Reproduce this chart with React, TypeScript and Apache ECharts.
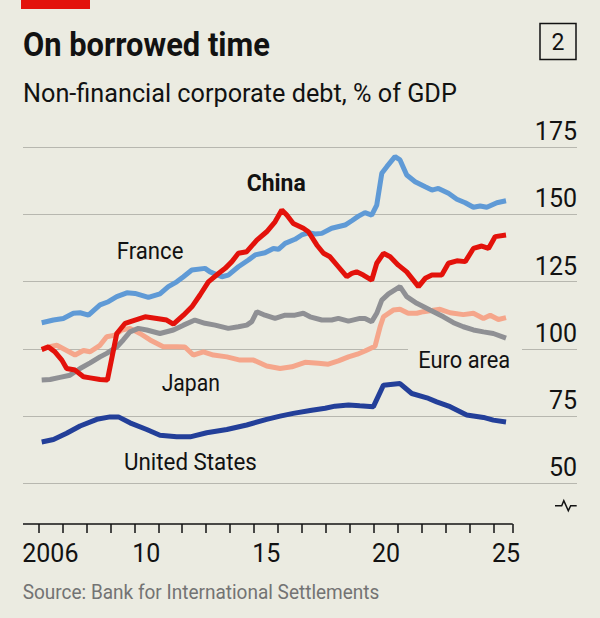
import React, { useEffect, useRef } from 'react';
import * as echarts from 'echarts';

// Non-financial corporate debt, % of GDP — [year, value]
const france: [number, number][] = [
  [2006.14, 109.7], [2006.63, 110.7], [2007.04, 111.3], [2007.46, 113.2], [2007.74, 113.4],
  [2008.09, 112.5], [2008.57, 116.3], [2008.92, 117.5], [2009.27, 119.4], [2009.69, 120.8],
  [2010.03, 120.6], [2010.59, 119.1], [2011.07, 120.4], [2011.42, 123.1], [2011.77, 124.9],
  [2012.05, 126.8], [2012.4, 129.3], [2012.95, 129.9], [2013.16, 128.6], [2013.65, 126.8],
  [2013.92, 127.4], [2014.34, 130.5], [2014.76, 133.0], [2015.04, 134.9], [2015.45, 135.7],
  [2015.8, 137.3], [2016.01, 137.0], [2016.29, 139.2], [2016.7, 140.7], [2016.98, 142.3],
  [2017.26, 143.1], [2017.54, 142.7], [2017.82, 142.9], [2018.23, 144.8], [2018.79, 146.0],
  [2019.07, 147.6], [2019.35, 149.3], [2019.62, 150.6], [2019.9, 149.7], [2020.11, 153.4],
  [2020.32, 165.2], [2020.53, 167.7], [2020.87, 171.4], [2021.08, 170.2], [2021.36, 164.6],
  [2021.71, 162.1], [2022.13, 160.2], [2022.41, 159.0], [2022.68, 159.6], [2023.1, 157.8],
  [2023.45, 155.6], [2023.8, 154.3], [2024.14, 152.6], [2024.42, 153.1], [2024.7, 152.6],
  [2025.12, 154.3], [2025.5, 155.0],
];

const china: [number, number][] = [
  [2006.14, 99.7], [2006.42, 100.7], [2006.7, 98.8], [2006.98, 95.8], [2007.18, 92.7],
  [2007.53, 92.1], [2007.88, 89.6], [2008.16, 89.2], [2008.57, 88.6], [2008.88, 88.4],
  [2009.27, 105.7], [2009.62, 109.5], [2010.03, 110.7], [2010.45, 111.9], [2010.94, 111.3],
  [2011.35, 110.7], [2011.63, 109.2], [2012.05, 112.5], [2012.4, 115.6], [2012.74, 120.0],
  [2013.09, 124.9], [2013.51, 128.0], [2013.79, 129.9], [2014.07, 132.4], [2014.34, 135.5],
  [2014.69, 136.1], [2015.11, 140.4], [2015.52, 143.5], [2015.87, 147.2], [2016.15, 151.6],
  [2016.36, 149.7], [2016.63, 146.6], [2017.05, 144.8], [2017.26, 143.5], [2017.61, 138.6],
  [2017.89, 135.5], [2018.16, 134.2], [2018.51, 130.5], [2018.86, 126.8], [2019.07, 128.0],
  [2019.27, 128.6], [2019.55, 127.4], [2019.9, 125.5], [2020.11, 131.8], [2020.39, 135.5],
  [2020.67, 134.2], [2021.01, 131.1], [2021.36, 128.6], [2021.85, 123.1], [2022.13, 126.2],
  [2022.41, 127.4], [2022.82, 127.4], [2023.1, 131.8], [2023.45, 132.7], [2023.8, 132.4],
  [2024.14, 137.3], [2024.49, 138.2], [2024.77, 137.3], [2025.05, 141.7], [2025.5, 142.3],
];

const euroArea: [number, number][] = [
  [2006.14, 88.4], [2006.49, 88.6], [2006.9, 89.4], [2007.32, 90.2], [2007.74, 92.7],
  [2008.16, 94.8], [2008.57, 97.0], [2008.85, 98.3], [2009.27, 100.7], [2009.54, 103.3],
  [2009.82, 106.3], [2010.17, 107.6], [2010.52, 107.0], [2011.07, 105.7], [2011.63, 107.0],
  [2012.05, 108.8], [2012.53, 110.7], [2012.95, 109.5], [2013.37, 108.8], [2013.92, 107.6],
  [2014.34, 108.2], [2014.69, 108.8], [2014.9, 110.1], [2015.11, 113.8], [2015.45, 112.5],
  [2015.87, 111.3], [2016.29, 112.5], [2016.7, 112.5], [2017.05, 113.2], [2017.33, 111.9],
  [2017.82, 110.7], [2018.23, 110.7], [2018.51, 111.3], [2018.93, 110.3], [2019.41, 111.3],
  [2019.62, 111.3], [2019.9, 110.1], [2020.11, 113.2], [2020.32, 118.1], [2020.6, 120.4],
  [2021.08, 123.1], [2021.36, 119.4], [2021.78, 116.9], [2022.33, 114.4], [2022.89, 111.9],
  [2023.31, 109.7], [2023.72, 108.2], [2024.14, 107.0], [2024.56, 106.3], [2024.97, 105.7],
  [2025.5, 104.0],
];

const japan: [number, number][] = [
  [2006.14, 99.9], [2006.42, 100.7], [2006.77, 101.3], [2007.18, 99.4], [2007.53, 97.7],
  [2007.88, 99.4], [2008.16, 98.9], [2008.57, 101.3], [2008.85, 104.5], [2009.2, 105.1],
  [2009.48, 107.0], [2009.82, 107.6], [2010.24, 105.7], [2010.66, 103.3], [2011.21, 100.8],
  [2011.77, 100.8], [2012.11, 100.7], [2012.46, 97.7], [2012.88, 98.9], [2013.3, 97.7],
  [2013.86, 97.0], [2014.41, 95.8], [2014.97, 95.8], [2015.52, 93.6], [2016.08, 92.7],
  [2016.57, 93.3], [2017.12, 95.0], [2017.68, 94.6], [2018.09, 94.3], [2018.51, 95.5],
  [2018.93, 97.0], [2019.3, 98.0], [2019.62, 99.2], [2020.04, 101.0], [2020.25, 108.2],
  [2020.39, 111.9], [2020.8, 114.4], [2021.08, 114.7], [2021.42, 113.2], [2021.78, 113.2],
  [2022.05, 113.8], [2022.75, 114.7], [2023.17, 113.4], [2023.72, 112.7], [2024.14, 113.2],
  [2024.56, 111.3], [2024.84, 112.5], [2025.18, 110.9], [2025.5, 111.6],
];

const unitedStates: [number, number][] = [
  [2006.14, 65.4], [2006.63, 66.3], [2007.18, 68.6], [2007.74, 71.3], [2008.44, 73.8],
  [2008.99, 74.7], [2009.34, 74.7], [2009.82, 72.5], [2010.52, 70.0], [2011.07, 67.9],
  [2011.77, 67.3], [2012.33, 67.3], [2013.02, 68.8], [2013.86, 70.0], [2014.69, 71.7],
  [2015.52, 73.8], [2016.08, 75.0], [2016.63, 76.0], [2017.4, 77.2], [2017.96, 77.9],
  [2018.37, 78.7], [2018.93, 79.1], [2019.4, 78.8], [2019.97, 78.5], [2020.39, 86.5],
  [2021.08, 87.1], [2021.57, 83.4], [2022.2, 81.8], [2022.61, 80.3], [2023.17, 78.5],
  [2023.86, 75.4], [2024.56, 74.5], [2024.97, 73.5], [2025.5, 72.8],
];

// Axis ticks and labels
const yTicks = [50, 75, 100, 125, 150, 175];
const xTickYears = [2006, 2007, 2008, 2009, 2010, 2011, 2012, 2013, 2014, 2015, 2016, 2017, 2018, 2019, 2020, 2021, 2022, 2023, 2024, 2025];
const xLabelYears = [2006, 2010, 2015, 2020, 2025];

const X_MIN = 2005.36;
const X_AXIS_END = 2025.78;
const X_MAX = 2028.46;
const Y_MIN = 34.9;
const Y_MAX = 175;

const BG = '#ebebe1';
const INK = '#121212';
const GRID = '#b7b7af';
const FONT = 'Roboto';

const COLORS = {
  france: '#5f9ad6',
  china: '#e3120b',
  euro: '#8f9094',
  japan: '#f5a68b',
  us: '#233f99',
};

let measureCtx: CanvasRenderingContext2D | null = null;
function fitScale(text: string, size: number, weight: string, target: number): number {
  if (!measureCtx) measureCtx = document.createElement('canvas').getContext('2d');
  if (!measureCtx) return 1;
  measureCtx.font = `${weight} ${size}px ${FONT}`;
  const w = measureCtx.measureText(text).width;
  return w > 0 ? target / w : 1;
}

function textEl(
  text: string,
  left: number,
  centerY: number,
  size: number,
  width: number,
  weight = 'normal',
  fill = INK,
) {
  return {
    type: 'text',
    x: left,
    y: centerY,
    scaleX: fitScale(text, size, weight, width),
    z: 100,
    style: {
      text,
      fontFamily: FONT,
      fontSize: size,
      fontWeight: weight,
      fill,
      align: 'left',
      verticalAlign: 'middle',
    },
  };
}

function lineSeries(name: string, data: [number, number][], color: string) {
  return {
    type: 'line',
    name,
    data,
    showSymbol: false,
    symbol: 'none',
    silent: true,
    lineStyle: { width: 5, color },
    itemStyle: { color },
  };
}

export default function App() {
  const ref = useRef<HTMLDivElement>(null);

  useEffect(() => {
    if (!ref.current) return;
    const chart = echarts.init(ref.current, null, { renderer: 'svg' });

    const option: any = {
      animation: false,
      backgroundColor: BG,
      grid: { left: 23, right: 23, top: 147, bottom: 94, containLabel: false, outerBoundsMode: 'none' },
      xAxis: {
        type: 'value',
        min: X_MIN,
        max: X_MAX,
        axisLine: { show: false },
        axisTick: {
          show: true,
          customValues: [...xTickYears, X_AXIS_END],
          length: 9,
          lineStyle: { color: INK, width: 1.5 },
        },
        axisLabel: {
          customValues: xLabelYears.map((y) => y + 0.5),
          formatter: (v: number) => {
            const y = Math.floor(v);
            return y === xLabelYears[0] ? String(y) : String(y).slice(2);
          },
          margin: 16.5,
          fontSize: 25,
          fontFamily: FONT,
          color: INK,
        },
        splitLine: { show: false },
      },
      yAxis: {
        type: 'value',
        position: 'right',
        min: Y_MIN,
        max: Y_MAX,
        axisLine: { show: false },
        axisTick: { show: false, customValues: yTicks },
        axisLabel: {
          customValues: yTicks,
          inside: true,
          margin: 0,
          align: 'right',
          verticalAlign: 'bottom',
          lineHeight: 31,
          fontSize: 25,
          fontFamily: FONT,
          color: INK,
        },
        splitLine: { show: true, lineStyle: { color: GRID, width: 1 } },
      },
      series: [
        lineSeries('Japan', japan, COLORS.japan),
        lineSeries('Euro area', euroArea, COLORS.euro),
        lineSeries('France', france, COLORS.france),
        lineSeries('United States', unitedStates, COLORS.us),
        lineSeries('China', china, COLORS.china),
        {
          type: 'line',
          name: 'axis',
          data: [[X_MIN, Y_MIN]],
          showSymbol: false,
          symbol: 'none',
          silent: true,
          clip: false,
          lineStyle: { width: 0 },
          markLine: {
            silent: true,
            symbol: ['none', 'none'],
            label: { show: false },
            lineStyle: { color: INK, width: 1.5, type: 'solid' },
            data: [[{ coord: [X_MIN, Y_MIN] }, { coord: [X_AXIS_END, Y_MIN] }]],
          },
        },
      ],
      graphic: [
        { type: 'rect', shape: { x: 21, y: 0, width: 69, height: 9 }, style: { fill: '#e3120b' } },
        textEl('On borrowed time', 23, 45, 33, 247, 'bold'),
        textEl('Non-financial corporate debt, % of GDP', 23, 94, 25, 434),
        {
          type: 'rect',
          shape: { x: 540, y: 23.5, width: 36, height: 36 },
          style: { fill: 'none', stroke: INK, lineWidth: 1.5 },
        },
        {
          type: 'text',
          x: 558,
          y: 42,
          style: { text: '2', fontFamily: FONT, fontSize: 23, fill: INK, align: 'center', verticalAlign: 'middle' },
        },
        // gap in the 100 gridline behind the "Euro area" label
        { type: 'rect', shape: { x: 408, y: 346, width: 114, height: 6 }, style: { fill: BG }, z: 50 },
        textEl('China', 246.7, 183.3, 23.5, 59, 'bold'),
        textEl('France', 116.7, 251.3, 24, 66.7),
        textEl('Japan', 161.7, 382.8, 24, 58.3),
        textEl('United States', 124, 462, 24, 133),
        textEl('Euro area', 418.3, 360, 23.5, 92),
        textEl('Source: Bank for International Settlements', 22.7, 592, 20, 357, 'normal', '#737373'),
        // axis break mark
        {
          type: 'polyline',
          shape: { points: [[555, 505.7], [561.7, 505.7], [563.8, 500.7], [568.3, 510.7], [570.7, 505.7], [576.7, 505.7]] },
          style: { stroke: INK, lineWidth: 1.5, fill: 'none' },
        },
      ],
    };

    chart.setOption(option);
    return () => chart.dispose();
  }, []);

  return (
    <div
      ref={ref}
      style={{ position: 'fixed', left: 0, top: 0, width: 600, height: 618 }}
    />
  );
}
